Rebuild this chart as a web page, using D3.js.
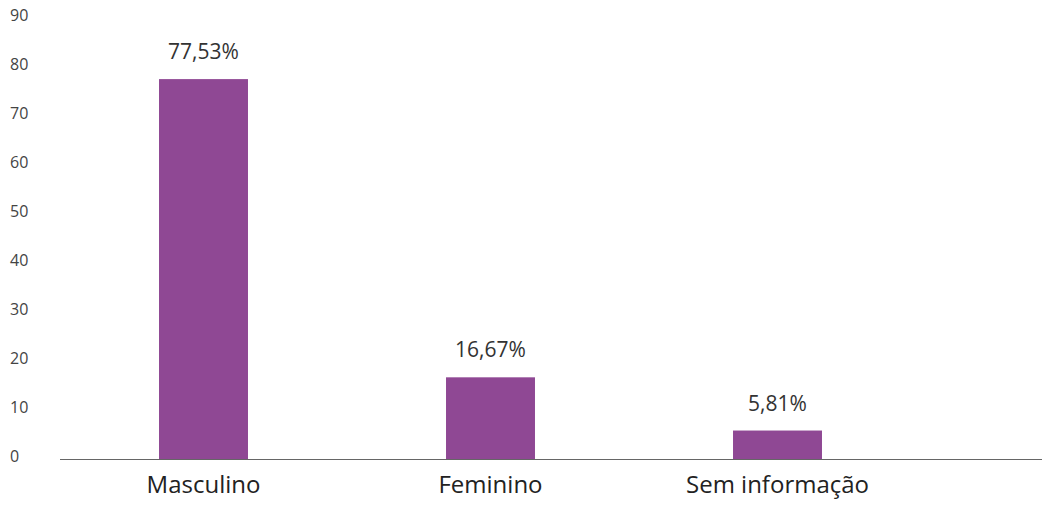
<!DOCTYPE html>
<html>
<head>
<meta charset="utf-8">
<script src="https://cdn.jsdelivr.net/npm/d3@7"></script>
<style>
  body { margin: 0; background: #fff; }
  text { font-family: "Open Sans", sans-serif; }
</style>
</head>
<body>
<svg width="1042" height="506"></svg>
<script>
// data
var categories = ['Masculino', 'Feminino', 'Sem informação']
var values = [77.53, 16.67, 5.81]
var valueLabels = ['77,53%', '16,67%', '5,81%']
var yTicks = [0, 10, 20, 30, 40, 50, 60, 70, 80, 90]

var svg = d3.select('svg')
var baseline = 459

var x = d3.scaleBand()
  .domain(categories)
  .range([60, 921])
  .paddingInner(0.69)
  .paddingOuter(0.345)

var y = d3.scaleLinear()
  .domain([0, 90])
  .range([baseline, 18])

// y tick labels (no axis line)
svg.append('g')
  .selectAll('text')
  .data(yTicks)
  .join('text')
  .attr('x', 10)
  .attr('y', function (d) { return y(d) - 3 })
  .attr('dy', '0.35em')
  .attr('fill', '#444')
  .attr('font-size', 16)
  .text(function (d) { return d })

// bars
svg.append('g')
  .selectAll('rect')
  .data(values)
  .join('rect')
  .attr('x', function (d, i) { return x(categories[i]) })
  .attr('y', function (d) { return y(d) })
  .attr('width', x.bandwidth())
  .attr('height', function (d) { return baseline - y(d) })
  .attr('fill', '#8f4894')

// value labels
svg.append('g')
  .selectAll('text')
  .data(values)
  .join('text')
  .attr('x', function (d, i) { return x(categories[i]) + x.bandwidth() / 2 })
  .attr('y', function (d) { return y(d) - 20 })
  .attr('text-anchor', 'middle')
  .attr('fill', '#333')
  .attr('font-size', 21)
  .text(function (d, i) { return valueLabels[i] })

// x axis
var xAxis = svg.append('g')
  .attr('transform', 'translate(0,' + baseline + ')')
  .call(d3.axisBottom(x).tickSize(0).tickPadding(17))
xAxis.select('.domain').remove()
xAxis.selectAll('text')
  .attr('font-size', 24)
  .attr('fill', '#222')
  .style('font-family', '"Open Sans", sans-serif')

svg.append('line')
  .attr('x1', 60)
  .attr('x2', 1042)
  .attr('y1', baseline + 0.5)
  .attr('y2', baseline + 0.5)
  .attr('stroke', '#666')
  .attr('stroke-width', 1)
</script>
</body>
</html>
